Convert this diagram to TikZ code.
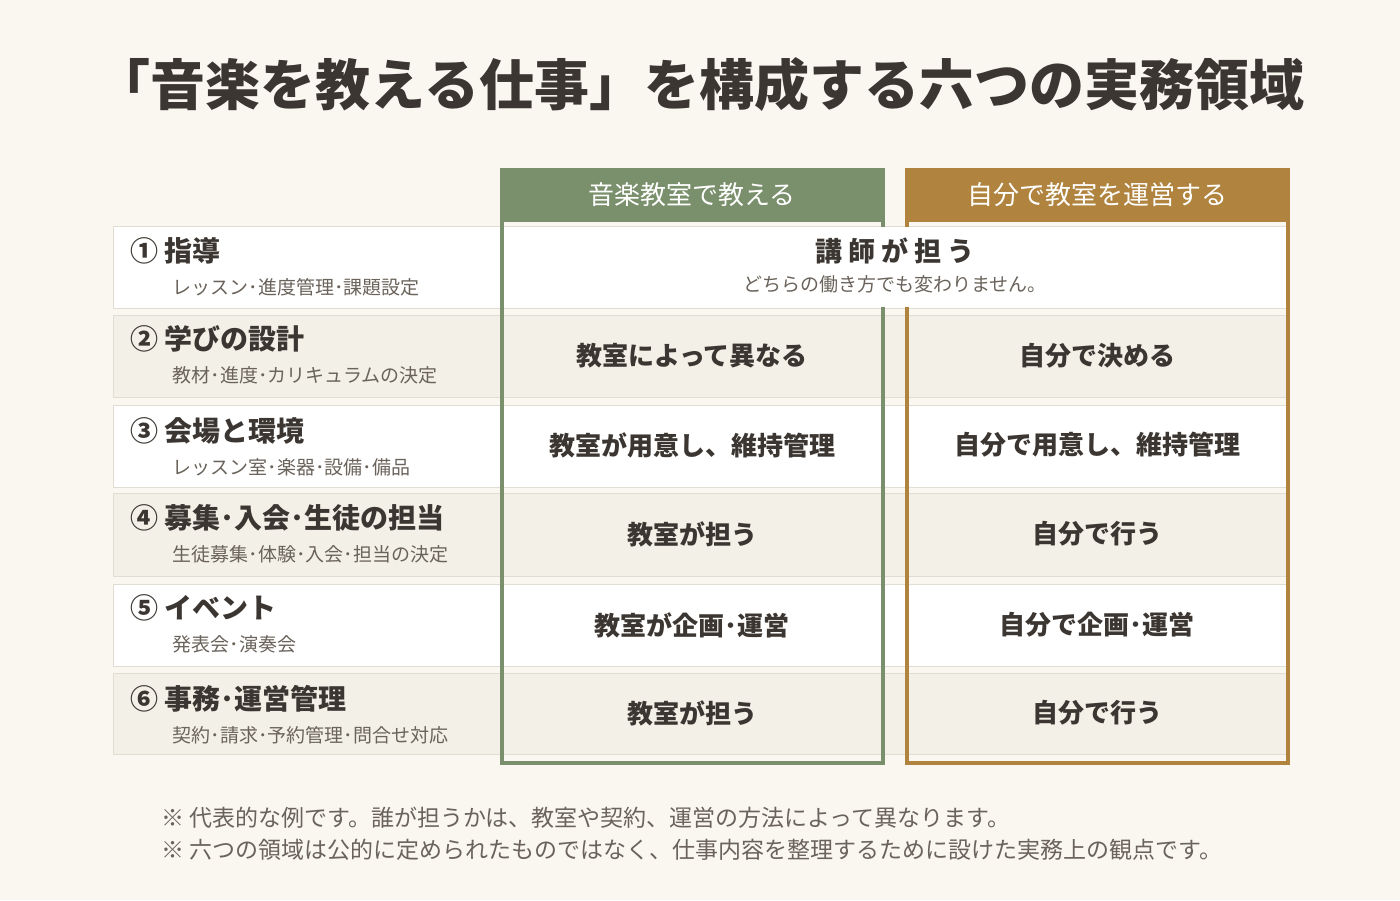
\documentclass[tikz,border=0pt]{standalone}
\usepackage{fontspec}
\setmainfont{Noto Sans CJK JP}
\definecolor{bgcream}{HTML}{FAF7F0}
\definecolor{rowbeige}{HTML}{F3F0E7}
\definecolor{gridgray}{HTML}{E2DDD2}
\definecolor{inkdark}{HTML}{3B3631}
\definecolor{inksub}{HTML}{6A635B}
\definecolor{sage}{HTML}{7A8F6B}
\definecolor{ochre}{HTML}{B0843F}
\tikzset{>=stealth}
\begin{document}
\begin{tikzpicture}[x=1pt, y=-1pt,
    cell/.style={draw=gridgray, line width=1pt},
    head/.style={font=\fontsize{26}{26}\selectfont, text=white},
    item/.style={anchor=west, font=\fontsize{28}{28}\selectfont\bfseries, text=inkdark},
    sub/.style={anchor=west, font=\fontsize{19}{19}\selectfont, text=inksub},
    val/.style={font=\fontsize{26}{26}\selectfont\bfseries, text=inkdark},
    note/.style={anchor=west, font=\fontsize{23}{23}\selectfont, text=inksub}]
    \useasboundingbox[fill=bgcream] (0,0) rectangle (1400,900);
    \node[font=\fontsize{55}{55}\selectfont\bfseries, text=inkdark] (title) at (700,85)
        {「音楽を教える仕事」を構成する六つの実務領域};
    % rows
    \foreach \top/\bot/\shade in {226/308/white, 315/397/rowbeige, 405/487/white,
                                  493/576/rowbeige, 584/666/white, 673/754/rowbeige} {
        \draw[cell, fill=\shade] (113,\top) rectangle (500,\bot);
        \draw[cell, fill=\shade] (500,\top) rectangle (1288,\bot);
    }
    % headers
    \fill[sage] (500,168) rectangle (885,222);
    \fill[ochre] (905,168) rectangle (1290,222);
    \node[head] (hgreen) at (692,195) {音楽教室で教える};
    \node[head] (hbrown) at (1097,195) {自分で教室を運営する};
    \draw[sage, line width=4pt] (502,222) -- (502,763) -- (883,763) -- (883,222);
    \draw[ochre, line width=4pt] (907,222) -- (907,763) -- (1288,763) -- (1288,222);
    % row 1 spans both columns
    \fill[white] (504,227) rectangle (1286,307);
    \draw[sage, line width=4pt] (502,222) -- (502,308);
    \draw[ochre, line width=4pt] (1288,222) -- (1288,308);
    \node[val, font=\fontsize{27}{27}\selectfont\bfseries] (teacher) at (895,251) {講\ 師\ が\ 担\ う};
    \node[font=\fontsize{19}{19}\selectfont, text=inksub] (same) at (895,284) {どちらの働き方でも変わりません。};
    % left labels
    \foreach \y/\name/\desc in {251/①\ 指導/レッスン･進度管理･課題設定,
                                339/②\ 学びの設計/教材･進度･カリキュラムの決定,
                                431/③\ 会場と環境/レッスン室･楽器･設備･備品,
                                518/④\ 募集･入会･生徒の担当/生徒募集･体験･入会･担当の決定,
                                608/⑤\ イベント/発表会･演奏会,
                                699/⑥\ 事務･運営管理/契約･請求･予約管理･問合せ対応} {
        \node[item] at (127,\y) {\name};
        \node[sub] at (169,\y+36) {\desc};
    }
    % column values
    \foreach \y/\lcell/\rcell in {356/教室によって異なる/自分で決める,
                                 445/教室が用意し、維持管理/自分で用意し、維持管理,
                                 534/教室が担う/自分で行う,
                                 625/教室が企画･運営/自分で企画･運営,
                                 713/教室が担う/自分で行う} {
        \node[val] at (692,\y) {\lcell};
        \node[val] at (1097,\y) {\rcell};
    }
    % notes
    \node[note] (noteA) at (158,818) {※ 代表的な例です。誰が担うかは、教室や契約、運営の方法によって異なります。};
    \node[note] (noteB) at (158,850) {※ 六つの領域は公的に定められたものではなく、仕事内容を整理するために設けた実務上の観点です。};
\end{tikzpicture}
\end{document}
